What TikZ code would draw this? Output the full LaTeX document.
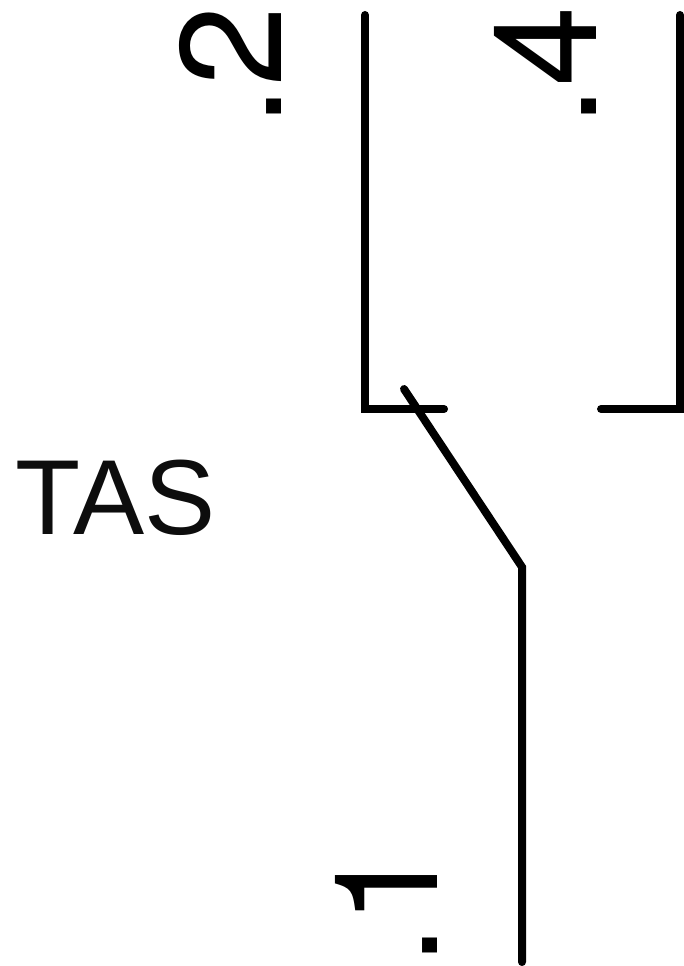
\documentclass[tikz,border=0pt]{standalone}
\usepackage{fontspec}
\setmainfont{Liberation Sans}
\newfontfamily\digitfont{TeX Gyre Heros}
\tikzset{wire/.style={line width=6pt,line cap=round,line join=miter,draw=black},
lab/.style={inner sep=0pt,font=\fontsize{80}{80}\selectfont,text=black!95},
digit/.style={inner sep=0pt,rotate=90,anchor=base,font=\digitfont\fontsize{108}{108}\selectfont,text=black}}
\begin{document}
\begin{tikzpicture}[x=1pt,y=-1pt,scale=0.75]
\useasboundingbox (0,0) rectangle (684,966);
\coordinate (a) at (365,15);
\coordinate (b) at (365,409);
\coordinate (c) at (444,409);
\coordinate (d) at (680,15);
\coordinate (e) at (680,409);
\coordinate (f) at (601,409);
\coordinate (g) at (404,389);
\coordinate (h) at (522,567);
\coordinate (i) at (522,962);
\draw[wire] (a) -- (b) -- (c);
\draw[wire] (d) -- (e) -- (f);
\draw[wire] (g) -- (h) -- (i);
\node[lab,anchor=center] (tas) at (115.5,498) {TAS};
\node[digit] (n2) at (281,66) {.2};
\node[digit] (n4) at (596,66) {.4};
\node[digit] (n1) at (437,905) {.1};
\end{tikzpicture}
\end{document}
